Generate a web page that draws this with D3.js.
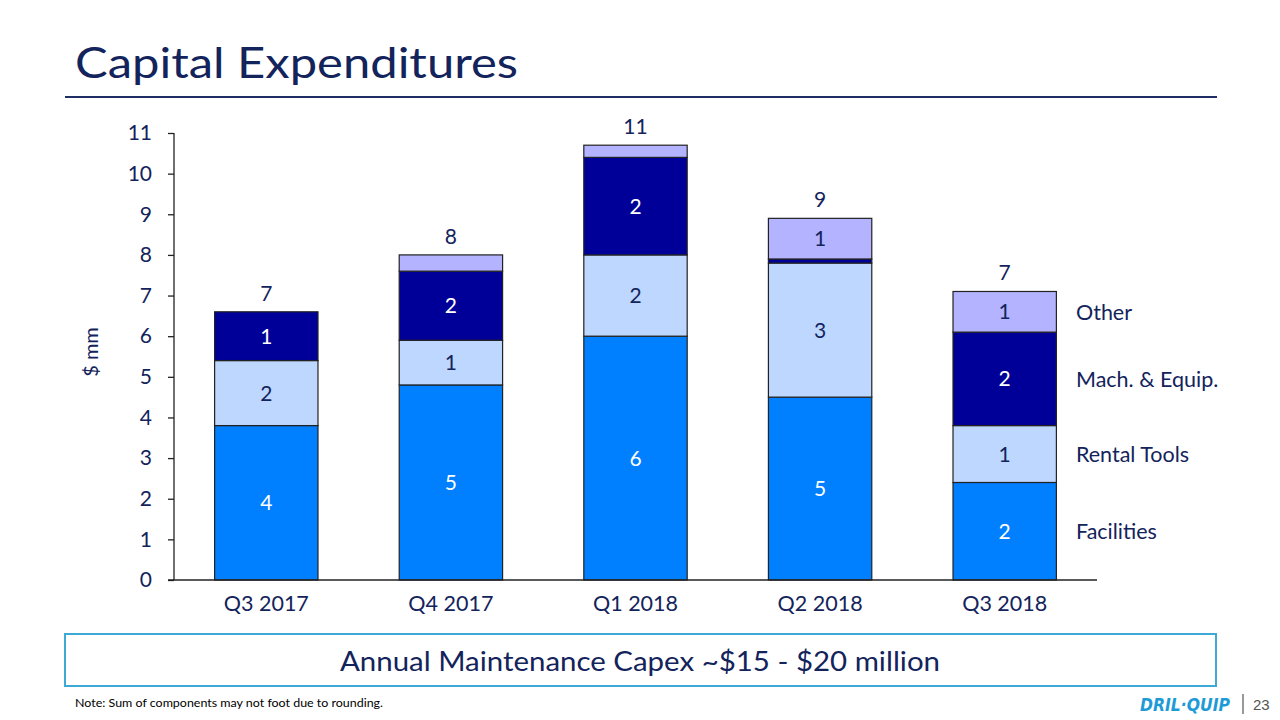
<!DOCTYPE html>
<html><head><meta charset="utf-8">
<script src="https://cdn.jsdelivr.net/npm/d3@7"></script>
<style>
body{margin:0;background:#fff;}
svg{display:block;}
text{font-family:"Century Gothic","URW Gothic","Lato","Open Sans",sans-serif;}
</style></head>
<body>
<svg id="chart" width="1280" height="720"></svg>
<script>
const categories = ["Q3 2017","Q4 2017","Q1 2018","Q2 2018","Q3 2018"];
const seriesNames = ["Facilities","Rental Tools","Mach. & Equip.","Other"];
const facilities = [3.8, 4.8, 6.0, 4.5, 2.4];
const rentalTools = [1.6, 1.1, 2.0, 3.3, 1.4];
const machEquip = [1.2, 1.7, 2.4, 0.1, 2.3];
const other = [0.0, 0.4, 0.3, 1.0, 1.0];
const yTicks = [0,1,2,3,4,5,6,7,8,9,10,11];
const colors = ["#0080FF","#BDD7FF","#000099","#B3B3FF"];
const labelColors = ["#ffffff","#13235B","#ffffff","#13235B"];
const navy = "#13235B";
const FONT = '"Century Gothic","URW Gothic","Lato","Open Sans",sans-serif';

const svg = d3.select("#chart");
const rows = categories.map((c,i)=>({cat:c, "Facilities":facilities[i], "Rental Tools":rentalTools[i], "Mach. & Equip.":machEquip[i], "Other":other[i]}));
const stacked = d3.stack().keys(seriesNames)(rows);

const x = d3.scaleBand().domain(categories).range([174,1097]).paddingInner(0.44).paddingOuter(0.22);
const y = d3.scaleLinear().domain([0,11]).range([580,133]);

// Title
svg.append("text").attr("x",75).attr("y",78).attr("font-size",43).attr("fill",navy)
  .attr("textLength",443).attr("lengthAdjust","spacingAndGlyphs").text("Capital Expenditures");
svg.append("line").attr("x1",65).attr("x2",1217).attr("y1",97).attr("y2",97).attr("stroke","#1F2F66").attr("stroke-width",2);

// bars
const g = svg.append("g");
stacked.forEach((s,si)=>{
  g.selectAll(null).data(s).enter().append("rect")
    .attr("x",d=>x(d.data.cat)).attr("width",x.bandwidth())
    .attr("y",d=>y(d[1])).attr("height",d=>Math.max(0,y(d[0])-y(d[1])))
    .attr("fill",colors[si]).attr("stroke",d=>(d[1]-d[0])>0?"#222":"none").attr("stroke-width",1.2);
  g.selectAll(null).data(s.filter(d=>Math.round(d[1]-d[0])>=1)).enter().append("text")
    .attr("x",d=>x(d.data.cat)+x.bandwidth()/2).attr("y",d=>(y(d[0])+y(d[1]))/2)
    .attr("dy","0.36em").attr("text-anchor","middle").attr("font-size",21)
    .attr("fill",labelColors[si]).text(d=>Math.round(d[1]-d[0]));
});
// totals
const totals = rows.map(r=>seriesNames.reduce((a,k)=>a+r[k],0));
g.selectAll(null).data(categories).enter().append("text")
  .attr("x",c=>x(c)+x.bandwidth()/2).attr("y",(c,i)=>y(totals[i])-11)
  .attr("text-anchor","middle").attr("font-size",21).attr("fill",navy)
  .text((c,i)=>Math.round(totals[i]));

// legend aligned to last bar segments
const lastIdx = categories.length-1;
stacked.forEach((s,si)=>{
  const d = s[lastIdx];
  svg.append("text").attr("x",1076).attr("y",(y(d[0])+y(d[1]))/2).attr("dy","0.36em")
    .attr("font-size",21.5).attr("fill",navy).text(seriesNames[si]);
});

// axes
const yAxis = svg.append("g").attr("transform","translate(174,0)")
  .call(d3.axisLeft(y).tickValues(yTicks).tickSize(6).tickPadding(16).tickFormat(d3.format("d")));
yAxis.select(".domain").attr("stroke","#222").attr("stroke-width",1.3).attr("d","M0,580V133");
yAxis.selectAll(".tick line").attr("stroke","#222").attr("stroke-width",1.3);
yAxis.selectAll(".tick text").attr("font-size",21).attr("fill",navy).style("font-family",FONT);

const xAxis = svg.append("g").attr("transform","translate(0,580)")
  .call(d3.axisBottom(x).tickSize(0).tickPadding(16));
xAxis.select(".domain").attr("stroke","#222").attr("stroke-width",1.3).attr("d","M168,0H1097");
xAxis.selectAll(".tick text").attr("font-size",21.5).attr("fill",navy).attr("dy","0.71em").style("font-family",FONT);

svg.append("text").attr("transform","translate(98,352) rotate(-90)").attr("text-anchor","middle")
  .attr("font-size",20).attr("fill",navy).text("$ mm");

// box
svg.append("rect").attr("x",65).attr("y",634).attr("width",1151).attr("height",52)
  .attr("fill","none").attr("stroke","#3FA9D6").attr("stroke-width",2);
svg.append("text").attr("x",340).attr("y",671).attr("font-size",26).attr("fill",navy)
  .attr("textLength",600).attr("lengthAdjust","spacingAndGlyphs")
  .text("Annual Maintenance Capex ~$15 - $20 million");

svg.append("text").attr("x",75).attr("y",707).attr("font-size",12).attr("fill","#000")
  .attr("textLength",308).attr("lengthAdjust","spacingAndGlyphs")
  .text("Note: Sum of components may not foot due to rounding.");

// logo
svg.append("text").attr("x",1140).attr("y",711).attr("font-size",18)
  .attr("font-weight","bold").attr("font-style","italic").attr("fill","#1E9BD7")
  .style("font-family","'DejaVu Sans',sans-serif")
  .attr("textLength",90).attr("lengthAdjust","spacingAndGlyphs").text("DRIL·QUIP");
svg.append("line").attr("x1",1243).attr("x2",1243).attr("y1",694).attr("y2",714).attr("stroke","#555").attr("stroke-width",1.2);
svg.append("text").attr("x",1253).attr("y",710).attr("font-size",15).attr("fill","#555").style("font-family","'Liberation Sans',sans-serif").text("23");
</script>
</body></html>
